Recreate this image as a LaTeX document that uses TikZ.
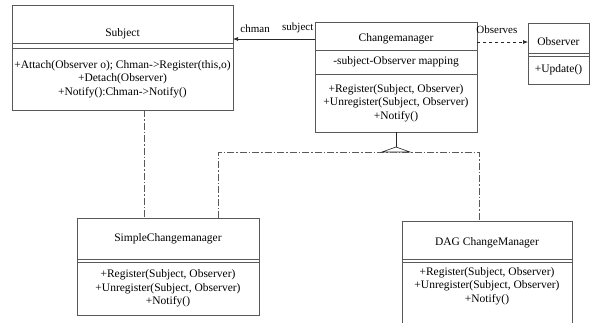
\documentclass[tikz,border=0pt]{standalone}
\usepackage{fontspec}
\setmainfont{Liberation Serif}
\usetikzlibrary{arrows.meta, positioning}
\tikzstyle{cBox} = [rectangle, draw=black!65, line width=0.6pt, inner sep=1pt, outer sep=0pt, align=center, font=\fontsize{11.5}{13.5}\selectfont]
\tikzstyle{cEmpty} = [cBox, minimum height=4pt]
\tikzstyle{cSide} = [draw=black!65, line width=0.6pt]
\tikzstyle{cLink} = [draw=black!85, line width=0.7pt, -{Latex[length=5pt,width=4pt]}]
\tikzstyle{cDepend} = [cLink, dashed]
\tikzstyle{cLabel} = [font=\fontsize{11}{13}\selectfont, inner sep=1pt]
\tikzstyle{cGen} = [draw=black!65, line width=0.6pt, dash pattern=on 7pt off 2pt on 1.5pt off 2pt]
\tikzstyle{cTri} = [draw=black!85, line width=0.6pt]

\begin{document}
\begin{tikzpicture}[x=1pt, y=-1pt]
    \useasboundingbox (0,0) rectangle (592,322);
    \clip (0,0) rectangle (592,322);

    % Subject
    \node (subjectName) [cBox, minimum width=221pt, minimum height=38pt, text height=24pt, text depth=0pt] at (122.5,24) {Subject};
    \node (subjectAttr) [cEmpty, minimum width=221pt, minimum height=5pt, below=0pt of subjectName] {};
    \node (subjectOps) [cBox, minimum width=221pt, minimum height=62pt, below=0pt of subjectAttr] {+Attach(Observer o); Chman->Register(this,o)\\+Detach(Observer)\\+Notify():Chman->Notify()};

    % Changemanager
    \node (cmName) [cBox, minimum width=162pt, minimum height=28pt, text height=11pt, text depth=0pt] at (396,36) {Changemanager};
    \node (cmAttr) [cBox, minimum width=162pt, minimum height=24pt, below=0pt of cmName] {-subject-Observer mapping};
    \node (cmOps) [cBox, minimum width=162pt, minimum height=58pt, below=0pt of cmAttr] {+Register(Subject, Observer)\\+Unregister(Subject, Observer)\\+Notify()};

    % Observer
    \node (obsName) [cBox, minimum width=61pt, minimum height=30pt, text height=15pt, text depth=0pt] at (558.5,38) {Observer};
    \node (obsAttr) [cEmpty, minimum width=61pt, minimum height=3pt, below=0pt of obsName] {};
    \node (obsOps) [cBox, minimum width=61pt, minimum height=28pt, below=0pt of obsAttr] {+Update()};

    % SimpleChangemanager
    \node (scmName) [cBox, minimum width=182pt, minimum height=41pt] at (168,238.5) {SimpleChangemanager};
    \node (scmAttr) [cEmpty, minimum width=182pt, minimum height=3pt, below=0pt of scmName] {};
    \node (scmOps) [cBox, minimum width=182pt, minimum height=53pt, below=0pt of scmAttr] {+Register(Subject, Observer)\\+Unregister(Subject, Observer)\\+Notify()};

    % DAG ChangeManager
    \node (dagName) [cBox, minimum width=170pt, minimum height=38pt, text height=11pt, text depth=0pt] at (487,240) {DAG ChangeManager};
    \node (dagAttr) [cEmpty, minimum width=170pt, minimum height=3pt, below=0pt of dagName] {};
    \node (dagOps) [cBox, draw=none, minimum width=170pt, minimum height=48pt, below=0pt of dagAttr] {+Register(Subject, Observer)\\+Unregister(Subject, Observer)\\+Notify()};
    \draw [cSide] (dagOps.north west) -- ++(0,70);
    \draw [cSide] (dagOps.north east) -- ++(0,70);

    % associations
    \draw [cLink] ([yshift=-3pt]cmName.west) -- node[cLabel, pos=0.21, above=5pt] {subject} node[cLabel, pos=0.73, above=5pt] {chman} ([yshift=-3pt]cmName.west -| subjectName.east);
    \draw [cDepend] ([yshift=-6pt]cmName.east) -- node[cLabel, pos=0.39, above=7pt] {Observes} ([yshift=-6pt]cmName.east -| obsName.west);
    \draw [cGen] ([xshift=21.5pt]subjectOps.south) -- ([xshift=21.5pt]subjectOps.south |- scmName.north);

    % generalization
    \coordinate (genTip) at ([yshift=-15pt]cmOps.south);
    \coordinate (genBar) at ([yshift=-20pt]cmOps.south);
    \draw [cGen] ([xshift=50pt]scmName.north) |- (genBar) -| ([xshift=-8pt]dagName.north);
    \draw [cTri] (cmOps.south) -- (genTip);
    \draw [cTri, fill=white] (genTip) -- ++(-14,5) -- ++(28,0) -- cycle;
\end{tikzpicture}
\end{document}
